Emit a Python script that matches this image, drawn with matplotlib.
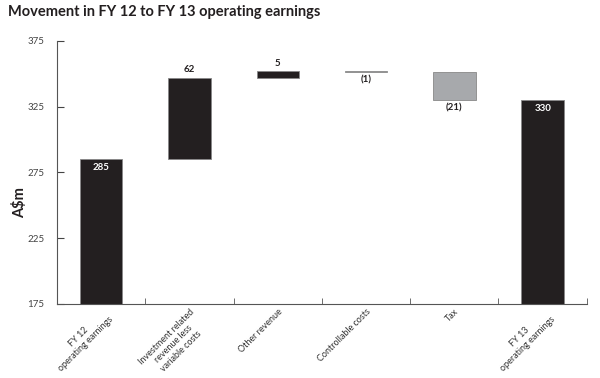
import matplotlib.pyplot as plt
import numpy as np

plt.rcParams['font.family'] = ['Lato', 'DejaVu Sans']

# data
categories = ['FY 12\noperating earnings', 'Investment related\nrevenue less\nvariable costs',
              'Other revenue', 'Controllable costs', 'Tax', 'FY 13\noperating earnings']
changes = [285, 62, 5, -1, -21, 330]
labels = ['285', '62', '5', '(1)', '(21)', '330']
is_total = [True, False, False, False, False, True]

dark = '#231f20'
grey = '#a7a9ac'

# waterfall bottoms / heights
bottoms = []
heights = []
running = 0
for v, tot in zip(changes, is_total):
    if tot:
        bottoms.append(175)
        heights.append(v - 175)
        running = v
    else:
        if v >= 0:
            bottoms.append(running)
        else:
            bottoms.append(running + v)
        heights.append(abs(v))
        running += v
colors = [dark if v > 0 else grey for v in changes]

fig = plt.figure(figsize=(6, 3.78), dpi=100)
ax = fig.add_axes([0.095, 0.196, 0.883, 0.696])

x = np.arange(len(categories))
ax.bar(x, heights, bottom=bottoms, width=0.48, color=colors, edgecolor='#888888', linewidth=0.6)

for i, (b, h, lab) in enumerate(zip(bottoms, heights, labels)):
    if is_total[i]:
        ax.text(x[i], b + h - 3, lab, ha='center', va='top', color='white',
                fontsize=7, fontweight='bold')
    elif changes[i] > 0:
        ax.text(x[i], b + h + 2.5, lab, ha='center', va='bottom', color=dark,
                fontsize=7, fontweight='bold')
    else:
        ax.text(x[i], b - 2.5, lab, ha='center', va='top', color=dark,
                fontsize=7, fontweight='bold')

ax.set_xlim(-0.5, len(categories) - 0.5)
ax.set_ylim(175, 375)
ax.set_yticks([175, 225, 275, 325, 375])
ax.tick_params(axis='y', direction='in', length=5, labelsize=7, colors='#444444', pad=9)
ax.set_xticks(x)
ax.set_xticklabels(categories, rotation=45, ha='right', rotation_mode='anchor',
                   multialignment='center', fontsize=6.5, color='#333333')
ax.tick_params(axis='x', length=0, pad=2.5)
ax.set_xticks(np.arange(len(categories) + 1) - 0.5, minor=True)
ax.tick_params(axis='x', which='minor', direction='in', length=4, color='#555555')

for s in ['top', 'right']:
    ax.spines[s].set_visible(False)
for s in ['left', 'bottom']:
    ax.spines[s].set_color('#555555')
    ax.spines[s].set_linewidth(0.8)

fig.text(0.032, 0.465, 'A$m', rotation=90, ha='center', va='center',
         fontsize=10.5, fontweight='bold', color=dark)
fig.text(0.013, 0.968, 'Movement in FY 12 to FY 13 operating earnings', ha='left', va='center',
         fontsize=10.5, fontweight='bold', color=dark)

plt.savefig('out.png', dpi=100)
